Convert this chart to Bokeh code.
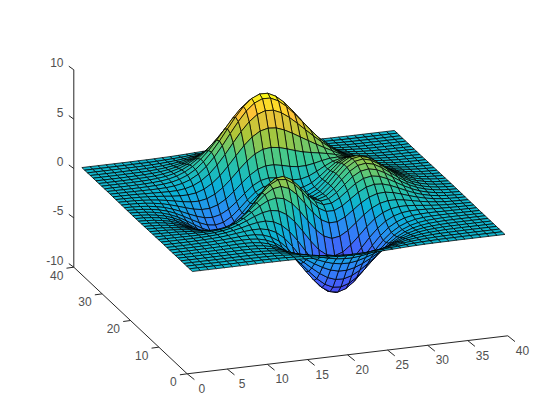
import numpy as np
from bokeh.plotting import figure
from bokeh.embed import file_html
from bokeh.resources import INLINE
from bokeh.core.properties import value

# Surface heights: one row per y = 1..40, one value per x = 1..40
Z = [
[0,0,0,0,0,0,0,0,.01,.01,0,0,-.01,-.03,-.06,-.09,-.13,-.17,-.21,-.24,-.25,-.25,-.24,-.22,-.18,-.15,-.11,-.08,-.05,-.03,-.02,-.01,-.01,0,0,0,0,0,0,0],
[0,0,0,0,0,0,.01,.01,.01,.01,0,-.01,-.03,-.07,-.11,-.18,-.25,-.33,-.4,-.45,-.48,-.48,-.46,-.41,-.35,-.28,-.21,-.15,-.1,-.06,-.04,-.02,-.01,-.01,0,0,0,0,0,0],
[0,0,0,0,0,.01,.01,.01,.01,.01,0,-.02,-.06,-.12,-.21,-.32,-.45,-.58,-.7,-.8,-.85,-.85,-.81,-.72,-.61,-.49,-.37,-.26,-.18,-.11,-.07,-.04,-.02,-.01,-.01,0,0,0,0,0],
[0,0,0,0,0,.01,.01,.02,.02,.01,0,-.04,-.1,-.21,-.36,-.54,-.76,-.98,-1.19,-1.35,-1.43,-1.44,-1.36,-1.21,-1.02,-.82,-.61,-.44,-.29,-.19,-.11,-.06,-.03,-.02,-.01,0,0,0,0,0],
[0,0,0,0,.01,.01,.02,.02,.03,.02,-.01,-.06,-.16,-.32,-.55,-.84,-1.18,-1.52,-1.84,-2.09,-2.22,-2.23,-2.11,-1.88,-1.59,-1.26,-.95,-.68,-.45,-.29,-.17,-.1,-.05,-.02,-.01,0,0,0,0,0],
[0,0,0,.01,.01,.02,.02,.03,.04,.03,0,-.08,-.22,-.45,-.78,-1.2,-1.69,-2.2,-2.66,-3.03,-3.23,-3.25,-3.07,-2.74,-2.31,-1.84,-1.38,-.98,-.65,-.41,-.24,-.13,-.07,-.03,-.01,-.01,0,0,0,0],
[0,0,0,.01,.01,.02,.03,.05,.06,.05,.01,-.08,-.26,-.56,-.99,-1.56,-2.21,-2.9,-3.55,-4.06,-4.35,-4.38,-4.15,-3.71,-3.13,-2.49,-1.86,-1.31,-.87,-.54,-.32,-.17,-.09,-.04,-.02,-.01,0,0,0,0],
[0,0,0,.01,.02,.03,.04,.06,.08,.09,.06,-.04,-.25,-.6,-1.12,-1.81,-2.63,-3.51,-4.34,-5.01,-5.4,-5.47,-5.21,-4.67,-3.93,-3.12,-2.33,-1.63,-1.07,-.66,-.37,-.2,-.09,-.04,-.01,0,0,0,0,0],
[0,0,0,.01,.02,.03,.06,.09,.12,.14,.14,.06,-.13,-.49,-1.04,-1.81,-2.75,-3.79,-4.79,-5.61,-6.13,-6.26,-6.0,-5.39,-4.54,-3.59,-2.66,-1.84,-1.19,-.71,-.39,-.19,-.08,-.03,0,.01,.01,0,0,0],
[0,0,0,.01,.02,.03,.06,.1,.15,.21,.25,.23,.1,-.2,-.71,-1.48,-2.47,-3.58,-4.71,-5.67,-6.32,-6.55,-6.32,-5.7,-4.8,-3.77,-2.76,-1.87,-1.17,-.66,-.33,-.13,-.04,.01,.02,.02,.01,.01,0,0],
[0,0,0,0,.01,.03,.06,.1,.18,.28,.38,.45,.45,.28,-.1,-.76,-1.68,-2.79,-3.97,-5.04,-5.81,-6.16,-6.03,-5.47,-4.6,-3.57,-2.55,-1.66,-.96,-.48,-.17,-.01,.05,.07,.06,.04,.03,.02,.01,0],
[0,0,-.01,-.01,-.01,0,.03,.08,.17,.31,.48,.68,.83,.88,.72,.28,-.46,-1.47,-2.62,-3.73,-4.61,-5.1,-5.12,-4.68,-3.91,-2.97,-2.02,-1.19,-.56,-.15,.09,.18,.19,.16,.11,.08,.05,.03,.01,.01],
[-.01,-.01,-.02,-.03,-.04,-.04,-.03,.01,.1,.26,.51,.82,1.17,1.46,1.59,1.45,.98,.18,-.88,-1.99,-2.95,-3.58,-3.76,-3.49,-2.86,-2.05,-1.21,-.5,.02,.32,.44,.44,.37,.28,.19,.12,.07,.04,.02,.01],
[-.01,-.02,-.03,-.05,-.08,-.11,-.13,-.12,-.06,.1,.38,.8,1.32,1.86,2.3,2.48,2.33,1.77,.87,-.2,-1.21,-1.95,-2.28,-2.15,-1.67,-.98,-.27,.32,.7,.87,.87,.75,.59,.42,.28,.17,.1,.05,.03,.01],
[-.01,-.03,-.05,-.08,-.13,-.2,-.27,-.32,-.31,-.19,.08,.55,1.19,1.93,2.65,3.15,3.29,2.99,2.27,1.27,.25,-.56,-.98,-.96,-.57,.04,.66,1.14,1.41,1.46,1.32,1.09,.82,.58,.38,.23,.13,.07,.04,.02],
[-.02,-.04,-.07,-.12,-.2,-.31,-.44,-.57,-.65,-.61,-.4,.05,.75,1.63,2.55,3.3,3.71,3.63,3.08,2.18,1.18,.36,-.09,-.09,.28,.87,1.46,1.89,2.08,2.02,1.78,1.43,1.07,.74,.48,.29,.17,.09,.04,.02],
[-.02,-.05,-.09,-.17,-.28,-.43,-.63,-.85,-1.04,-1.12,-1.01,-.63,.06,.99,2.03,2.96,3.57,3.68,3.26,2.46,1.53,.74,.33,.38,.81,1.45,2.07,2.5,2.65,2.52,2.18,1.74,1.29,.89,.57,.35,.2,.1,.05,.03],
[-.03,-.06,-.11,-.2,-.35,-.55,-.82,-1.13,-1.43,-1.63,-1.65,-1.38,-.76,.17,1.27,2.3,3.04,3.29,3.0,2.3,1.45,.75,.42,.56,1.09,1.82,2.51,2.97,3.1,2.93,2.52,2.0,1.48,1.02,.66,.4,.23,.12,.06,.03],
[-.03,-.07,-.13,-.24,-.4,-.65,-.97,-1.37,-1.77,-2.09,-2.24,-2.08,-1.55,-.67,.43,1.51,2.33,2.68,2.51,1.91,1.16,.55,.32,.57,1.21,2.03,2.78,3.28,3.41,3.21,2.76,2.19,1.62,1.11,.71,.43,.25,.13,.07,.03],
[-.04,-.07,-.14,-.26,-.44,-.71,-1.08,-1.53,-2.01,-2.43,-2.67,-2.62,-2.18,-1.37,-.31,.78,1.64,2.06,1.98,1.48,.83,.33,.2,.53,1.24,2.12,2.92,3.43,3.57,3.35,2.88,2.29,1.69,1.16,.74,.45,.26,.14,.07,.03],
[-.04,-.07,-.14,-.26,-.45,-.74,-1.12,-1.6,-2.12,-2.6,-2.92,-2.95,-2.6,-1.87,-.88,.18,1.04,1.5,1.49,1.09,.55,.14,.09,.48,1.22,2.12,2.92,3.43,3.57,3.35,2.87,2.28,1.68,1.15,.74,.45,.26,.13,.07,.03],
[-.04,-.07,-.14,-.26,-.44,-.72,-1.1,-1.58,-2.1,-2.6,-2.95,-3.04,-2.77,-2.13,-1.23,-.25,.58,1.05,1.09,.78,.33,.01,.02,.43,1.16,2.03,2.79,3.27,3.4,3.19,2.73,2.17,1.6,1.1,.7,.43,.24,.13,.06,.03],
[-.03,-.06,-.13,-.24,-.41,-.67,-1.02,-1.47,-1.96,-2.44,-2.79,-2.91,-2.7,-2.15,-1.35,-.47,.29,.74,.82,.58,.23,-.03,.01,.41,1.08,1.87,2.56,2.99,3.1,2.9,2.48,1.97,1.45,1.0,.64,.39,.22,.12,.06,.03],
[-.03,-.06,-.11,-.21,-.36,-.58,-.89,-1.29,-1.72,-2.14,-2.46,-2.57,-2.39,-1.91,-1.2,-.41,.28,.72,.83,.67,.39,.19,.22,.55,1.11,1.76,2.32,2.67,2.74,2.55,2.17,1.72,1.26,.87,.56,.34,.19,.1,.05,.02],
[-.02,-.05,-.09,-.17,-.3,-.48,-.74,-1.06,-1.42,-1.75,-2.0,-2.06,-1.87,-1.42,-.76,-.02,.65,1.09,1.26,1.18,.96,.78,.76,.97,1.35,1.8,2.18,2.39,2.39,2.19,1.85,1.45,1.06,.73,.46,.28,.16,.08,.04,.02],
[-.02,-.04,-.07,-.13,-.23,-.37,-.57,-.81,-1.07,-1.3,-1.44,-1.42,-1.16,-.68,0,.76,1.45,1.97,2.22,2.23,2.07,1.87,1.75,1.76,1.89,2.08,2.22,2.25,2.13,1.89,1.56,1.2,.87,.59,.38,.23,.13,.07,.03,.02],
[-.01,-.03,-.05,-.1,-.17,-.27,-.4,-.56,-.72,-.84,-.86,-.71,-.35,.23,.99,1.83,2.62,3.24,3.62,3.72,3.61,3.38,3.11,2.88,2.72,2.58,2.43,2.24,1.98,1.67,1.33,1.0,.71,.47,.3,.18,.1,.05,.03,.01],
[-.01,-.02,-.04,-.07,-.11,-.17,-.25,-.34,-.4,-.4,-.3,-.02,.47,1.16,2.04,3.0,3.93,4.69,5.2,5.4,5.33,5.03,4.61,4.13,3.66,3.2,2.76,2.34,1.92,1.52,1.15,.84,.58,.38,.23,.14,.08,.04,.02,.01],
[-.01,-.01,-.02,-.04,-.07,-.1,-.13,-.15,-.14,-.04,.17,.57,1.16,1.98,2.96,4.04,5.09,5.98,6.61,6.9,6.85,6.5,5.93,5.24,4.5,3.77,3.08,2.45,1.9,1.42,1.03,.71,.47,.3,.18,.1,.06,.03,.01,.01],
[0,-.01,-.01,-.02,-.03,-.04,-.04,-.02,.06,.22,.51,.97,1.65,2.52,3.57,4.72,5.83,6.8,7.5,7.84,7.81,7.43,6.77,5.94,5.02,4.1,3.25,2.49,1.85,1.33,.92,.61,.39,.24,.14,.08,.04,.02,.01,0],
[0,0,-.01,-.01,-.01,0,.02,.07,.17,.37,.69,1.18,1.86,2.74,3.78,4.91,6.01,6.98,7.69,8.05,8.03,7.64,6.96,6.08,5.1,4.11,3.19,2.39,1.73,1.2,.81,.52,.32,.19,.11,.06,.03,.02,.01,0],
[0,0,0,0,0,.02,.05,.11,.22,.42,.74,1.2,1.84,2.64,3.6,4.63,5.64,6.53,7.19,7.53,7.52,7.16,6.52,5.68,4.74,3.79,2.91,2.15,1.53,1.04,.68,.43,.26,.15,.08,.05,.02,.01,.01,0],
[0,0,0,0,.01,.03,.06,.12,.22,.4,.68,1.08,1.63,2.32,3.13,4.0,4.86,5.62,6.19,6.48,6.48,6.17,5.62,4.89,4.07,3.24,2.47,1.81,1.27,.85,.55,.34,.2,.12,.06,.03,.02,.01,0,0],
[0,0,0,0,.01,.03,.05,.1,.19,.34,.56,.88,1.32,1.86,2.49,3.18,3.86,4.46,4.9,5.14,5.14,4.9,4.46,3.87,3.22,2.56,1.94,1.41,.98,.66,.42,.26,.15,.09,.05,.02,.01,.01,0,0],
[0,0,0,0,.01,.02,.04,.08,.15,.26,.43,.66,.98,1.38,1.85,2.35,2.85,3.29,3.61,3.79,3.79,3.61,3.28,2.85,2.37,1.88,1.42,1.03,.71,.47,.3,.18,.11,.06,.03,.02,.01,0,0,0],
[0,0,0,0,.01,.02,.03,.06,.11,.18,.3,.46,.68,.95,1.27,1.61,1.95,2.25,2.48,2.6,2.59,2.47,2.25,1.95,1.62,1.28,.97,.7,.48,.32,.2,.12,.07,.04,.02,.01,.01,0,0,0],
[0,0,0,0,0,.01,.02,.04,.07,.12,.19,.3,.44,.61,.82,1.04,1.26,1.45,1.59,1.67,1.67,1.59,1.45,1.26,1.04,.83,.62,.45,.31,.2,.13,.08,.04,.02,.01,.01,0,0,0,0],
[0,0,0,0,0,.01,.01,.02,.04,.07,.12,.18,.26,.37,.49,.62,.75,.86,.95,.99,.99,.95,.86,.75,.62,.49,.37,.27,.18,.12,.08,.05,.03,.01,.01,0,0,0,0,0],
[0,0,0,0,0,0,.01,.01,.02,.04,.07,.1,.15,.21,.28,.35,.43,.49,.54,.57,.57,.54,.49,.43,.35,.28,.21,.15,.1,.07,.04,.03,.01,.01,0,0,0,0,0,0],
[0,0,0,0,0,0,0,.01,.01,.02,.04,.05,.08,.11,.15,.19,.22,.26,.28,.3,.3,.28,.26,.22,.19,.15,.11,.08,.05,.04,.02,.01,.01,0,0,0,0,0,0,0],
]
x_ticks = [0, 5, 10, 15, 20, 25, 30, 35, 40]
y_ticks = [0, 10, 20, 30, 40]
z_ticks = [-10, -5, 0, 5, 10]
cmap_stops = [(0.28,0.24,0.93),(0.27,0.36,0.98),(0.1786,0.5289,0.9682),(0.04,0.70,0.84),
              (0.2161,0.7843,0.5923),(0.6720,0.7793,0.2227),(0.9970,0.7659,0.2199),(0.9769,0.9839,0.0805)]

FONT = "Liberation Sans"
TEXT = "#505050"
AXIS = "#262626"

O = (186.7, 373.3)          # page position of x=0, y=0, z=-10
EX = (8.015, -0.95)         # per unit of x
EY = (-2.835, -2.665)       # per unit of y
EZ = -9.87                  # per unit of z

def sx(x, y, z):
    return O[0] + EX[0]*np.asarray(x, float) + EY[0]*np.asarray(y, float)

def sy(x, y, z):
    return O[1] + EX[1]*np.asarray(x, float) + EY[1]*np.asarray(y, float) + EZ*(np.asarray(z, float)+10)

def depth(x, y, z):
    return -0.008*x - 0.0222*y + 0.0103*z

Za = np.array(Z, float)
n = Za.shape[0]
zmin, zmax = Za.min(), Za.max()
stops = np.array(cmap_stops)
pos = np.linspace(0, 1, len(stops))

def color(v):
    t = (v - zmin)/(zmax - zmin)
    rgb = [int(round(255*np.interp(t, pos, stops[:, c]))) for c in range(3)]
    return "#%02x%02x%02x" % tuple(rgb)

quads = []
for j in range(n-1):
    for i in range(n-1):
        X = [i+1, i+2, i+2, i+1]
        Y = [j+1, j+1, j+2, j+2]
        H = [Za[j, i], Za[j, i+1], Za[j+1, i+1], Za[j+1, i]]
        d = depth(np.mean(X), np.mean(Y), np.mean(H))
        quads.append((d, [float(sx(a, b, c)) for a, b, c in zip(X, Y, H)],
                      [float(sy(a, b, c)) for a, b, c in zip(X, Y, H)], color(Za[j, i])))
quads.sort(key=lambda q: q[0])

# The photographed canvas starts at the picture's own top-left corner
p = figure(width=544, height=404, x_range=(0, 544), y_range=(404, 0),
           output_backend="svg", toolbar_location=None, min_border=0)
p.axis.visible = False
p.grid.visible = False
p.outline_line_color = None

# axis lines
p.line([float(sx(0, 0, -10)), float(sx(40, 0, -10))], [float(sy(0, 0, -10)), float(sy(40, 0, -10))], line_color=AXIS, line_width=1)
p.line([float(sx(0, 0, -10)), float(sx(0, 40, -10))], [float(sy(0, 0, -10)), float(sy(0, 40, -10))], line_color=AXIS, line_width=1)
p.line([float(sx(0, 40, -10)), float(sx(0, 40, 10))], [float(sy(0, 40, -10)), float(sy(0, 40, 10))], line_color=AXIS, line_width=1)

# ticks
def ticks(pts, dx, dy):
    x0 = [float(sx(*q)) for q in pts]
    y0 = [float(sy(*q)) for q in pts]
    p.segment(x0, y0, [a+dx for a in x0], [b+dy for b in y0], line_color=AXIS, line_width=1)
    return x0, y0

ax, ay = ticks([(t, 0, -10) for t in x_ticks], 7.2, 5.8)
bx, by = ticks([(0, t, -10) for t in y_ticks], -7.3, 1.0)
cx, cy = ticks([(0, 40, t) for t in z_ticks], -5.0, -3.6)

def labels(xs, ys, texts, align):
    p.text(xs, ys, text=[str(t) for t in texts], text_font=value(FONT), text_font_size="12px",
           text_color=TEXT, text_align=align, text_baseline="middle")

labels([a+14.7 for a in ax], [b+14.5 for b in ay], x_ticks, "center")
labels([a-10.5 for a in bx], [b+8 for b in by], y_ticks, "right")
labels([a-10.3 for a in cx], [b-7 for b in cy], z_ticks, "right")

p.patches([q[1] for q in quads], [q[2] for q in quads], fill_color=[q[3] for q in quads],
          line_color="black", line_width=0.75)

open("out.html", "w").write(file_html(p, INLINE))
